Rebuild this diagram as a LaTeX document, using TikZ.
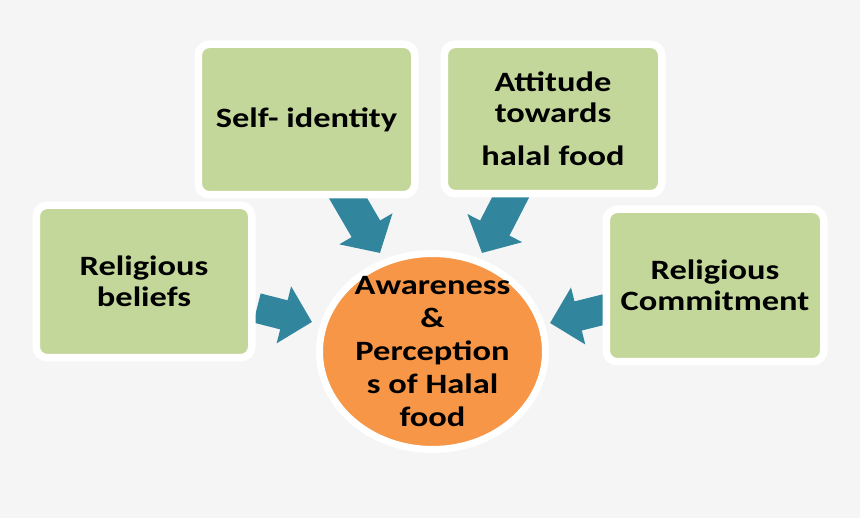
\documentclass[tikz,border=0pt]{standalone}
\usepackage{fontspec}
\setmainfont{Carlito}[FakeStretch=1.23]
\usetikzlibrary{arrows.meta,shapes.geometric}
\definecolor{bgcol}{HTML}{F5F5F5}
\definecolor{boxgreen}{HTML}{C4D79B}
\definecolor{hubcol}{HTML}{F79646}
\definecolor{arrowteal}{HTML}{31859C}
\begin{document}
\begin{tikzpicture}[x=1pt,y=-1pt,
  factor/.style={draw=white, line width=7.5pt, fill=boxgreen, rounded corners=11pt,
    align=center, inner sep=0pt, font=\bfseries\fontsize{28}{31}\selectfont},
  hubshape/.style={ellipse, draw=white, line width=7pt, fill=hubcol, inner sep=0pt},
  hubtext/.style={align=center, inner sep=0pt, font=\bfseries\fontsize{28}{33}\selectfont},
  sidearrow/.style={draw=arrowteal, line width=30pt, -{Triangle[length=29pt,width=57pt]}},
  toparrow/.style={draw=arrowteal, line width=33pt, -{Triangle[length=28pt,width=60pt]}}]
\fill[bgcol] (0,0) rectangle (860,518);
\useasboundingbox (0,0) rectangle (860,518);
% arrow ends
\coordinate (t1) at (338,181);
\coordinate (p1) at (380,253);
\coordinate (t2) at (519,181);
\coordinate (p2) at (482,253);
\coordinate (t3) at (257,308);
\coordinate (p3) at (312,322);
\coordinate (t4) at (612,307.5);
\coordinate (p4) at (550,323);
\draw[toparrow] (t1) -- (p1);
\draw[toparrow] (t2) -- (p2);
\draw[sidearrow] (t3) -- (p3);
\draw[sidearrow] (t4) -- (p4);
% boxes
\node[factor, minimum width=216.5pt, minimum height=150.5pt] (sid) at (306.5,119.5) {Self- identity};
\node[factor, minimum width=217.5pt, minimum height=149.5pt] (att) at (553,119) {Attitude\\towards\\[12pt]halal food};
\node[factor, minimum width=215.5pt, minimum height=152.5pt] (rb) at (144,281.5) {Religious\\beliefs};
\node[factor, minimum width=217.5pt, minimum height=152.5pt] (rc) at (715,285.5) {Religious\\Commitment};
% hub
\node[hubshape, minimum width=226pt, minimum height=196pt] (hub) at (432.5,351.5) {};
\node[hubtext] (ht) at (hub.center) {Awareness\\\&\\Perception\\s of Halal\\food};
\end{tikzpicture}
\end{document}
